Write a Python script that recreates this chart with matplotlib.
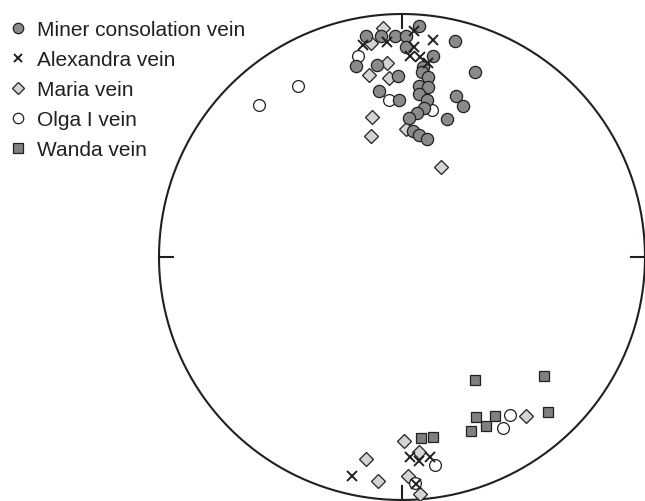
import matplotlib
matplotlib.use("Agg")
import matplotlib.pyplot as plt
import numpy as np
from matplotlib.lines import Line2D

plt.rcParams['font.family'] = ['Liberation Sans', 'DejaVu Sans']

# Projected pole positions on the stereonet (unit circle, x = east, y = north)
miner_x = [0.07, -0.148, -0.086, -0.029, 0.016, 0.218, 0.016, 0.128, -0.189, -0.103,
           -0.016, 0.086, 0.082, 0.107, 0.300, 0.070, 0.107, 0.070, -0.095, -0.012,
           0.103, 0.222, 0.251, 0.091, 0.062, 0.185, 0.029, 0.045, 0.070, 0.103]
miner_y = [0.95, 0.909, 0.909, 0.909, 0.909, 0.889, 0.864, 0.827, 0.786, 0.790,
           0.745, 0.782, 0.761, 0.741, 0.761, 0.704, 0.700, 0.671, 0.683, 0.646,
           0.646, 0.663, 0.621, 0.613, 0.593, 0.568, 0.572, 0.519, 0.502, 0.486]

alex_x = [0.049, -0.160, -0.062, 0.128, 0.049, 0.033, 0.074, 0.107,
          -0.206, 0.033, 0.070, 0.115, 0.058]
alex_y = [0.930, 0.872, 0.885, 0.893, 0.864, 0.827, 0.823, 0.798,
          -0.901, -0.823, -0.840, -0.823, -0.934]

maria_x = [-0.078, -0.128, -0.062, -0.136, -0.053, -0.123, -0.128, 0.016, 0.160,
           0.510, 0.008, -0.148, 0.070, -0.099, 0.025, 0.074]
maria_y = [0.942, 0.881, 0.798, 0.749, 0.737, 0.576, 0.498, 0.527, 0.370,
           -0.654, -0.757, -0.831, -0.802, -0.922, -0.901, -0.975]

olga_x = [-0.428, -0.588, -0.181, -0.053, 0.123, 0.444, 0.416, 0.136, 0.053]
olga_y = [0.704, 0.626, 0.827, 0.646, 0.605, -0.650, -0.704, -0.856, -0.930]

wanda_x = [0.300, 0.584, 0.305, 0.383, 0.346, 0.284, 0.601, 0.078, 0.128]
wanda_y = [-0.506, -0.490, -0.658, -0.654, -0.695, -0.716, -0.638, -0.745, -0.741]

labels = ["Miner consolation vein", "Alexandra vein", "Maria vein", "Olga I vein", "Wanda vein"]

W, H = 645, 502
fig = plt.figure(figsize=(W / 100, H / 100), dpi=100)
cx, cy, R = 402, 244, 243
ax = fig.add_axes([(cx - R) / W, (cy - R) / H, 2 * R / W, 2 * R / H])
ax.set_xlim(-1, 1)
ax.set_ylim(-1, 1)
ax.axis('off')

ink = '#231f20'
th = np.linspace(0, 2 * np.pi, 721)
ax.plot(np.cos(th), np.sin(th), color=ink, lw=1.5, clip_on=False, zorder=1)
t = 0.058
for (x0, y0, x1, y1) in [(0, 1, 0, 1 - t), (0, -1, 0, -1 + t), (-1, 0, -1 + t, 0), (1, 0, 1 - t, 0)]:
    ax.plot([x0, x1], [y0, y1], color=ink, lw=1.5, clip_on=False, zorder=1)

ax.plot(maria_x, maria_y, 'D', ms=7.2, mfc='#d4d4d4', mec=ink, mew=0.9, ls='none', clip_on=False, zorder=3)
ax.plot(olga_x, olga_y, 'o', ms=8.5, mfc='white', mec=ink, mew=0.9, ls='none', clip_on=False, zorder=3)
ax.plot(wanda_x, wanda_y, 's', ms=7.2, mfc='#808080', mec=ink, mew=0.9, ls='none', clip_on=False, zorder=3)
ax.plot(miner_x, miner_y, 'o', ms=8.8, mfc='#8a8a8a', mec=ink, mew=0.9, ls='none', clip_on=False, zorder=4)
ax.plot(alex_x, alex_y, 'x', ms=7.5, mec=ink, mew=1.4, ls='none', clip_on=False, zorder=5)

handles = [
    Line2D([], [], marker='o', ms=7.5, mfc='#8a8a8a', mec=ink, mew=0.9, ls='none'),
    Line2D([], [], marker='x', ms=6, mec=ink, mew=1.4, ls='none'),
    Line2D([], [], marker='D', ms=6.5, mfc='#d4d4d4', mec=ink, mew=0.9, ls='none'),
    Line2D([], [], marker='o', ms=7.5, mfc='white', mec=ink, mew=0.9, ls='none'),
    Line2D([], [], marker='s', ms=6.5, mfc='#808080', mec=ink, mew=0.9, ls='none'),
]
fig.legend(handles, labels, loc='upper left', bbox_to_anchor=(1 / W, 1.0 - 15 / H),
           frameon=False, fontsize=15, handlelength=1.0, handletextpad=0.45,
           labelspacing=0.53, borderpad=0.3, borderaxespad=0.0, labelcolor=ink)

fig.savefig('out.png', dpi=100)
